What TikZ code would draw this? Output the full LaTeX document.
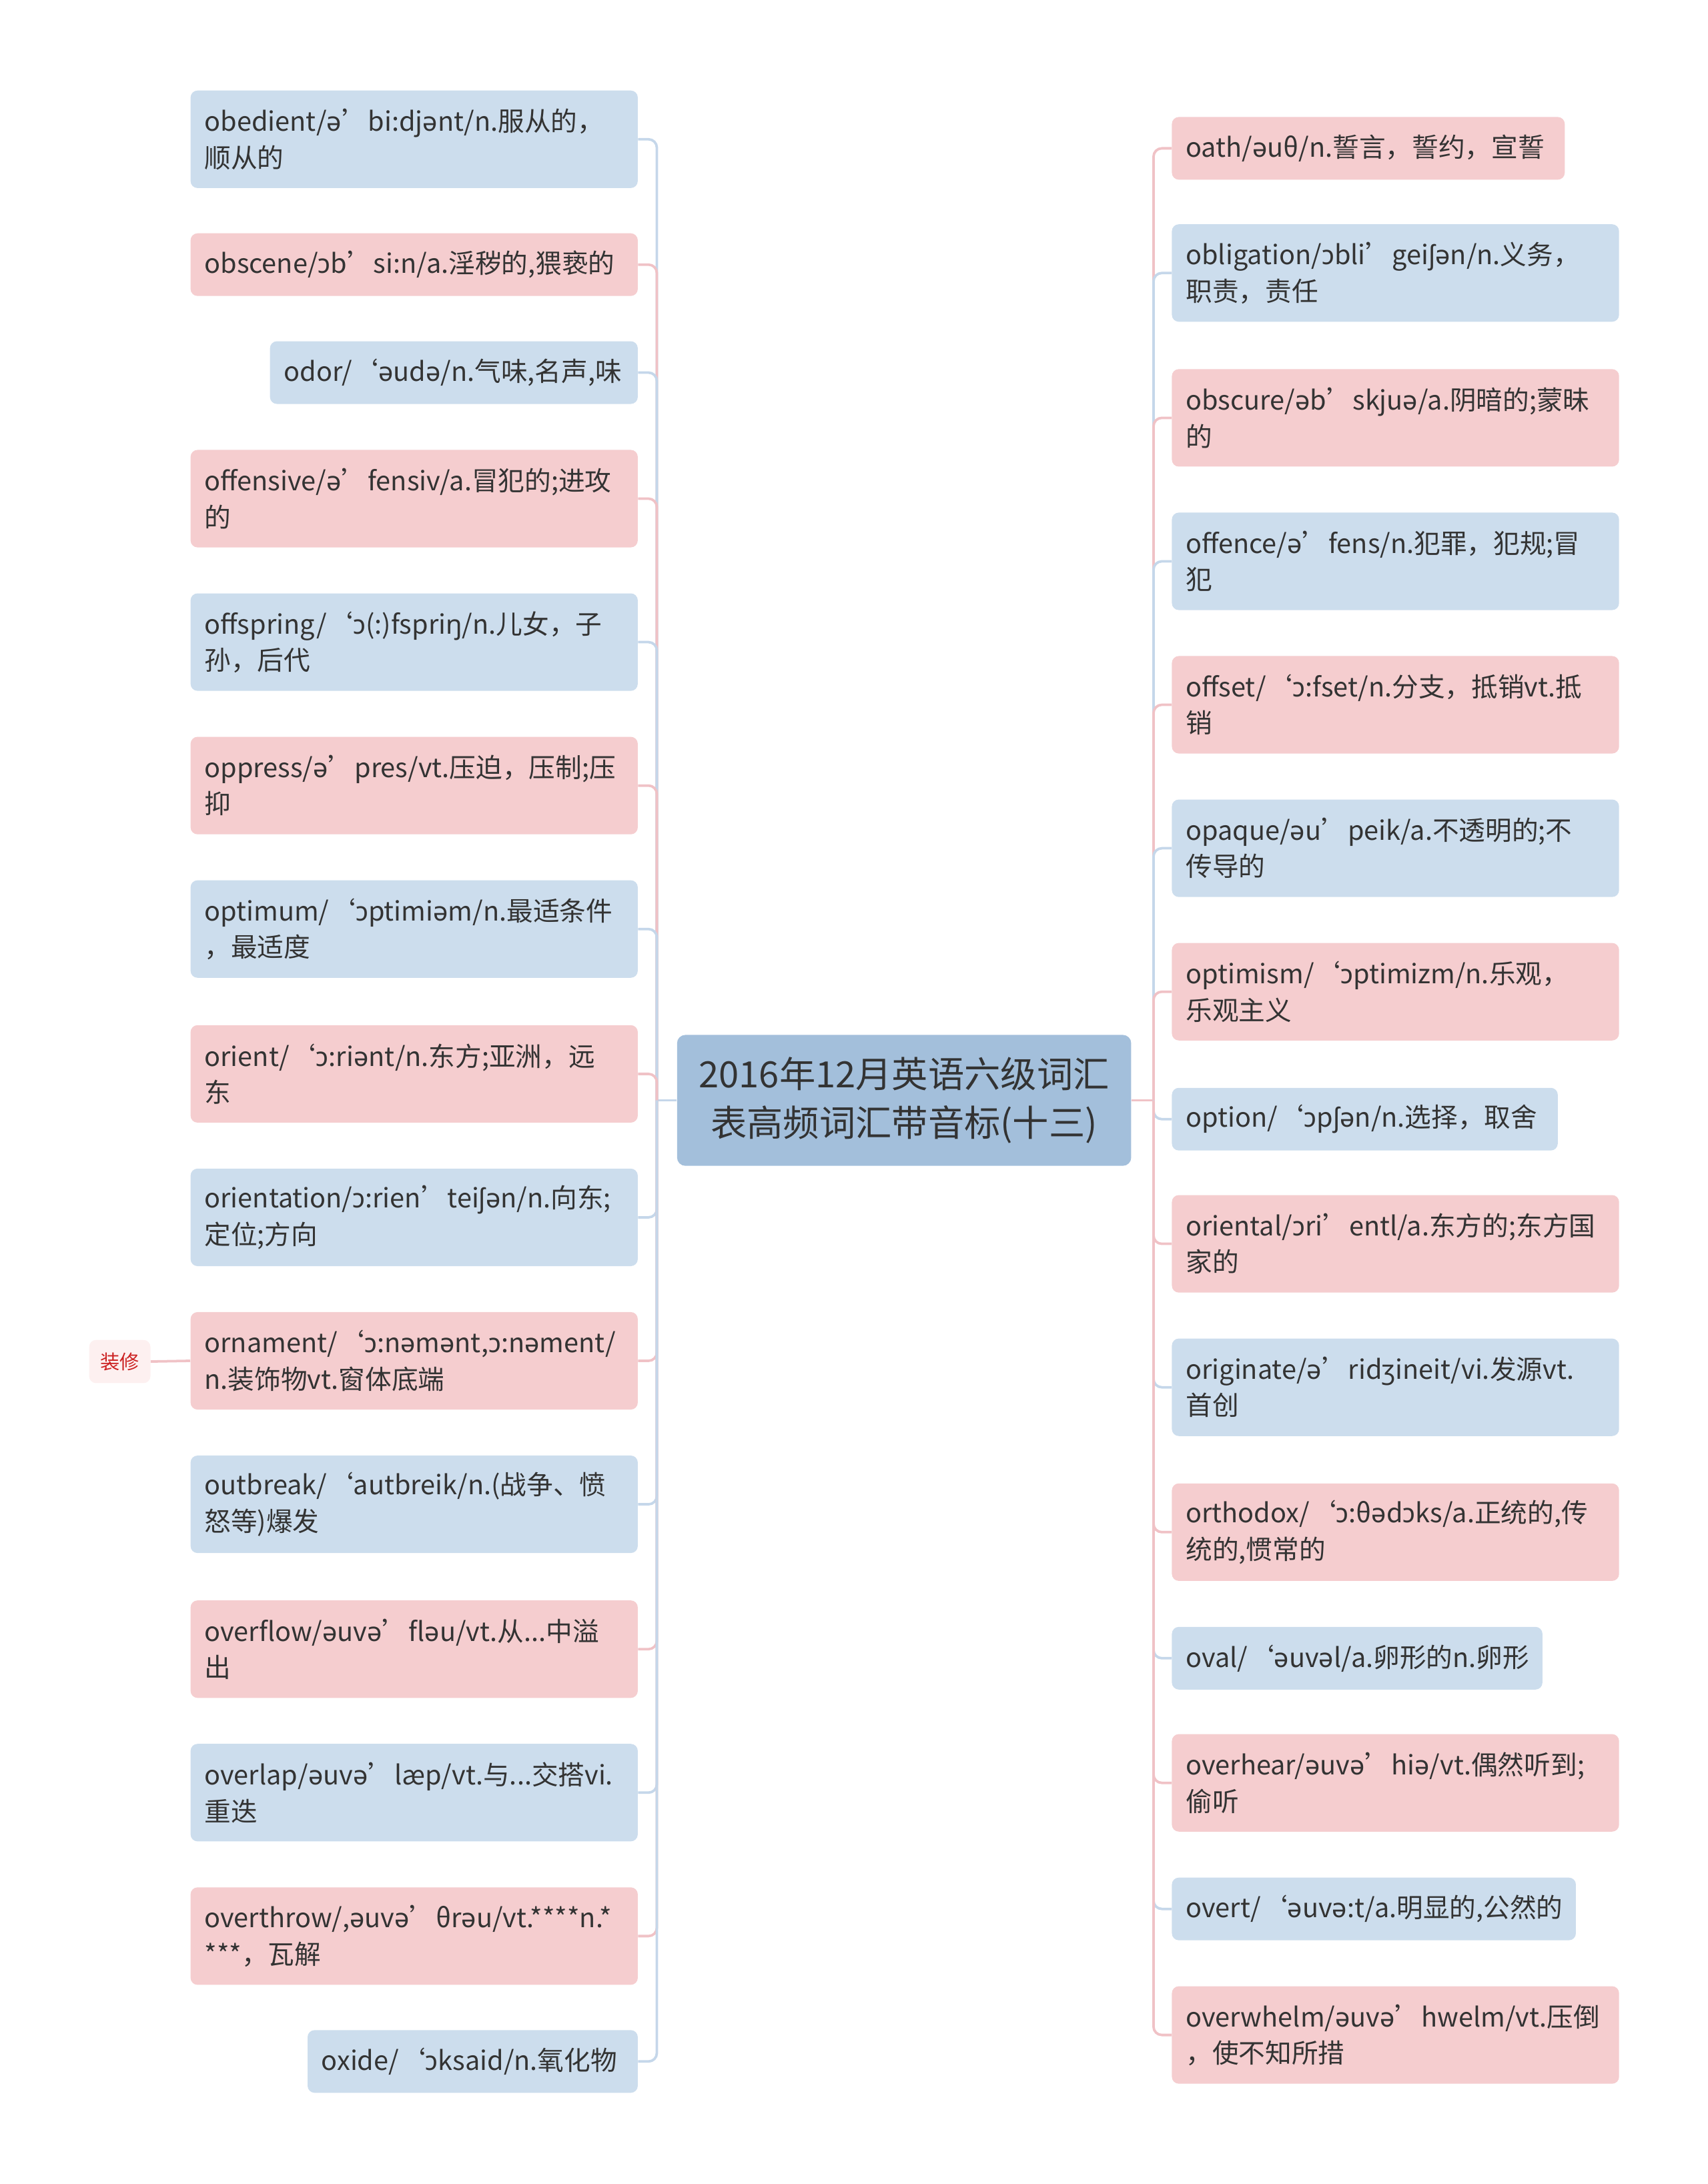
\documentclass[tikz,border=0pt]{standalone}
\usepackage{fontspec}
\setmainfont{Noto Sans CJK SC}
\newfontfamily\ipafont{Noto Sans}
\hyphenpenalty=10000
\exhyphenpenalty=10000

% IPA letters come from Noto Sans
\XeTeXinterchartokenstate=1
\newXeTeXintercharclass\ipaclass
\XeTeXcharclass"0259=\ipaclass
\XeTeXcharclass"0254=\ipaclass
\XeTeXcharclass"0283=\ipaclass
\XeTeXcharclass"014B=\ipaclass
\XeTeXcharclass"0292=\ipaclass
\XeTeXinterchartoks 0 \ipaclass={\ipafont}
\XeTeXinterchartoks 1 \ipaclass={\ipafont}
\XeTeXinterchartoks 2 \ipaclass={\ipafont}
\XeTeXinterchartoks 3 \ipaclass={\ipafont}
\XeTeXinterchartoks 4095 \ipaclass={\ipafont}
\XeTeXinterchartoks \ipaclass 0={\rmfamily}
\XeTeXinterchartoks \ipaclass 1={\rmfamily}
\XeTeXinterchartoks \ipaclass 2={\rmfamily}
\XeTeXinterchartoks \ipaclass 3={\rmfamily}
\XeTeXinterchartoks \ipaclass 4095={\rmfamily}
\newcommand\ipaword[1]{{\XeTeXinterchartokenstate=0 \ipafont #1}}

\definecolor{leafpink}{HTML}{F5CDCF}
\definecolor{leafblue}{HTML}{CCDDED}
\definecolor{rootblue}{HTML}{A3BFDB}
\definecolor{linkpink}{HTML}{F0C2C6}
\definecolor{linkblue}{HTML}{C5D7EA}
\definecolor{inktext}{HTML}{333333}
\definecolor{notefill}{HTML}{FDF0F0}
\definecolor{notered}{HTML}{CC2222}

\begin{document}
\begin{tikzpicture}[x=1pt, y=-1pt,
  leaf/.style={rounded corners=5pt, align=left, inner xsep=10pt, inner ysep=0pt,
    text=inktext, font=\fontsize{19}{26}\selectfont},
  pinkleaf/.style={leaf, fill=leafpink},
  blueleaf/.style={leaf, fill=leafblue},
  wide/.style={text width=301pt},
  twoline/.style={minimum height=70pt},
  oneline/.style={minimum height=45pt},
  rootbox/.style={rounded corners=6pt, fill=rootblue, align=center, text=inktext,
    minimum width=326pt, minimum height=94pt, font=\fontsize{26}{35}\selectfont},
  notebox/.style={rounded corners=5pt, fill=notefill, text=notered,
    minimum width=44pt, minimum height=31pt, inner sep=0pt, font=\fontsize{14}{16}\selectfont},
  pinklink/.style={draw=linkpink, line width=1.8pt, rounded corners=6pt},
  bluelink/.style={draw=linkblue, line width=1.8pt, rounded corners=6pt}]

\useasboundingbox (0,0) rectangle (1226,1568);

% Root
\node[rootbox] (root) at (649,790) {2016年12月英语六级词汇\\表高频词汇带音标(十三)};

% Left words
\node[blueleaf, twoline, wide, anchor=east] (obedient) at (458,100) {obedient/ə’bi:djənt/n.服从的，\\顺从的};
\node[pinkleaf, oneline, wide, anchor=east] (obscene) at (458,190) {obscene/ɔb’si:n/a.淫秽的,猥亵的};
\node[blueleaf, oneline, text width=244pt, anchor=east] (odor) at (458,267.5) {odor/‘əudə/n.气味,名声,味};
\node[pinkleaf, twoline, wide, anchor=east] (offensive) at (458,358) {offensive/ə’fensiv/a.冒犯的;进攻\\的};
\node[blueleaf, twoline, wide, anchor=east] (offspring) at (458,461) {offspring/‘ɔ(:)fspriŋ/n.儿女，子\\孙，后代};
\node[pinkleaf, twoline, wide, anchor=east] (oppress) at (458,564) {oppress/ə’pres/vt.压迫，压制;压\\抑};
\node[blueleaf, twoline, wide, anchor=east] (optimum) at (458,667) {optimum/‘ɔptimiəm/n.最适条件\\，最适度};
\node[pinkleaf, twoline, wide, anchor=east] (orient) at (458,771) {orient/‘ɔ:riənt/n.东方;亚洲，远\\东};
\node[blueleaf, twoline, wide, anchor=east] (orientation) at (458,874) {orientation/ɔ:rien’tei\ipaword{ʃə}n/n.向东;\\定位;方向};
\node[pinkleaf, twoline, wide, anchor=east] (ornament) at (458,977) {ornament/‘ɔ:nəmənt,ɔ:nəment/\\n.装饰物vt.窗体底端};
\node[blueleaf, twoline, wide, anchor=east] (outbreak) at (458,1080) {outbreak/‘autbreik/n.(战争、愤\\怒等)爆发};
\node[pinkleaf, twoline, wide, anchor=east] (overflow) at (458,1184) {overflow/əuvə’fləu/vt.从...中溢\\出};
\node[blueleaf, twoline, wide, anchor=east] (overlap) at (458,1287) {overlap/əuvə’læp/vt.与...交搭vi.\\重迭};
\node[pinkleaf, twoline, wide, anchor=east] (overthrow) at (458,1390) {overthrow/,əuvə’θrəu/vt.****n.*\\{}***，瓦解};
\node[blueleaf, oneline, text width=217pt, anchor=east] (oxide) at (458,1480) {oxide/‘ɔksaid/n.氧化物};

% Note
\node[notebox] (zhuangxiu) at (86,977.5) {装修};

% Right words
\node[pinkleaf, oneline, text width=262pt, anchor=west] (oath) at (841,106.5) {oath/əuθ/n.誓言，誓约，宣誓};
\node[blueleaf, twoline, wide, anchor=west] (obligation) at (841,196) {obligation/ɔbli’gei\ipaword{ʃə}n/n.义务，\\职责，责任};
\node[pinkleaf, twoline, wide, anchor=west] (obscure) at (841,300) {obscure/əb’skjuə/a.阴暗的;蒙昧\\的};
\node[blueleaf, twoline, wide, anchor=west] (offence) at (841,403) {offence/ə’fens/n.犯罪，犯规;冒\\犯};
\node[pinkleaf, twoline, wide, anchor=west] (offset) at (841,506) {offset/‘ɔ:fset/n.分支，抵销vt.抵\\销};
\node[blueleaf, twoline, wide, anchor=west] (opaque) at (841,609) {opaque/əu’peik/a.不透明的;不\\传导的};
\node[pinkleaf, twoline, wide, anchor=west] (optimism) at (841,712) {optimism/‘ɔptimizm/n.乐观，\\乐观主义};
\node[blueleaf, oneline, text width=257pt, anchor=west] (option) at (841,803.5) {option/‘ɔp\ipaword{ʃə}n/n.选择，取舍};
\node[pinkleaf, twoline, wide, anchor=west] (oriental) at (841,893) {oriental/ɔri’entl/a.东方的;东方国\\家的};
\node[blueleaf, twoline, wide, anchor=west] (originate) at (841,996) {originate/ə’ridʒineit/vi.发源vt.\\首创};
\node[pinkleaf, twoline, wide, anchor=west] (orthodox) at (841,1100) {orthodox/‘ɔ:θədɔks/a.正统的,传\\统的,惯常的};
\node[blueleaf, oneline, text width=246pt, anchor=west] (oval) at (841,1190.5) {oval/‘əuvəl/a.卵形的n.卵形};
\node[pinkleaf, twoline, wide, anchor=west] (overhear) at (841,1280) {overhear/əuvə’hiə/vt.偶然听到;\\偷听};
\node[blueleaf, oneline, text width=270pt, anchor=west] (overt) at (841,1370.5) {overt/‘əuvə:t/a.明显的,公然的};
\node[pinkleaf, twoline, wide, anchor=west] (overwhelm) at (841,1461) {overwhelm/əuvə’hwelm/vt.压倒\\，使不知所措};

% Left links
\coordinate (ltrunk) at (471.5,790);
\draw[bluelink] (root.west) -- (ltrunk);
\draw[bluelink] (ltrunk) |- (obedient.east);
\draw[pinklink] (ltrunk) |- (obscene.east);
\draw[bluelink] (ltrunk) |- (odor.east);
\draw[pinklink] (ltrunk) |- (offensive.east);
\draw[bluelink] (ltrunk) |- (offspring.east);
\draw[pinklink] (ltrunk) |- (oppress.east);
\draw[bluelink] (ltrunk) |- (optimum.east);
\draw[pinklink] (ltrunk) |- (orient.east);
\draw[bluelink] (ltrunk) |- (orientation.east);
\draw[pinklink] (ltrunk) |- (ornament.east);
\draw[bluelink] (ltrunk) |- (outbreak.east);
\draw[pinklink] (ltrunk) |- (overflow.east);
\draw[bluelink] (ltrunk) |- (overlap.east);
\draw[pinklink] (ltrunk) |- (overthrow.east);
\draw[bluelink] (ltrunk) |- (oxide.east);
\draw[pinklink] (zhuangxiu.east) -- (ornament.west);

% Right links
\coordinate (rtrunk) at (828,790);
\draw[pinklink] (root.east) -- (rtrunk);
\draw[pinklink] (rtrunk) |- (oath.west);
\draw[bluelink] (rtrunk) |- (obligation.west);
\draw[pinklink] (rtrunk) |- (obscure.west);
\draw[bluelink] (rtrunk) |- (offence.west);
\draw[pinklink] (rtrunk) |- (offset.west);
\draw[bluelink] (rtrunk) |- (opaque.west);
\draw[pinklink] (rtrunk) |- (optimism.west);
\draw[bluelink] (rtrunk) |- (option.west);
\draw[pinklink] (rtrunk) |- (oriental.west);
\draw[bluelink] (rtrunk) |- (originate.west);
\draw[pinklink] (rtrunk) |- (orthodox.west);
\draw[bluelink] (rtrunk) |- (oval.west);
\draw[pinklink] (rtrunk) |- (overhear.west);
\draw[bluelink] (rtrunk) |- (overt.west);
\draw[pinklink] (rtrunk) |- (overwhelm.west);

\end{tikzpicture}
\end{document}
